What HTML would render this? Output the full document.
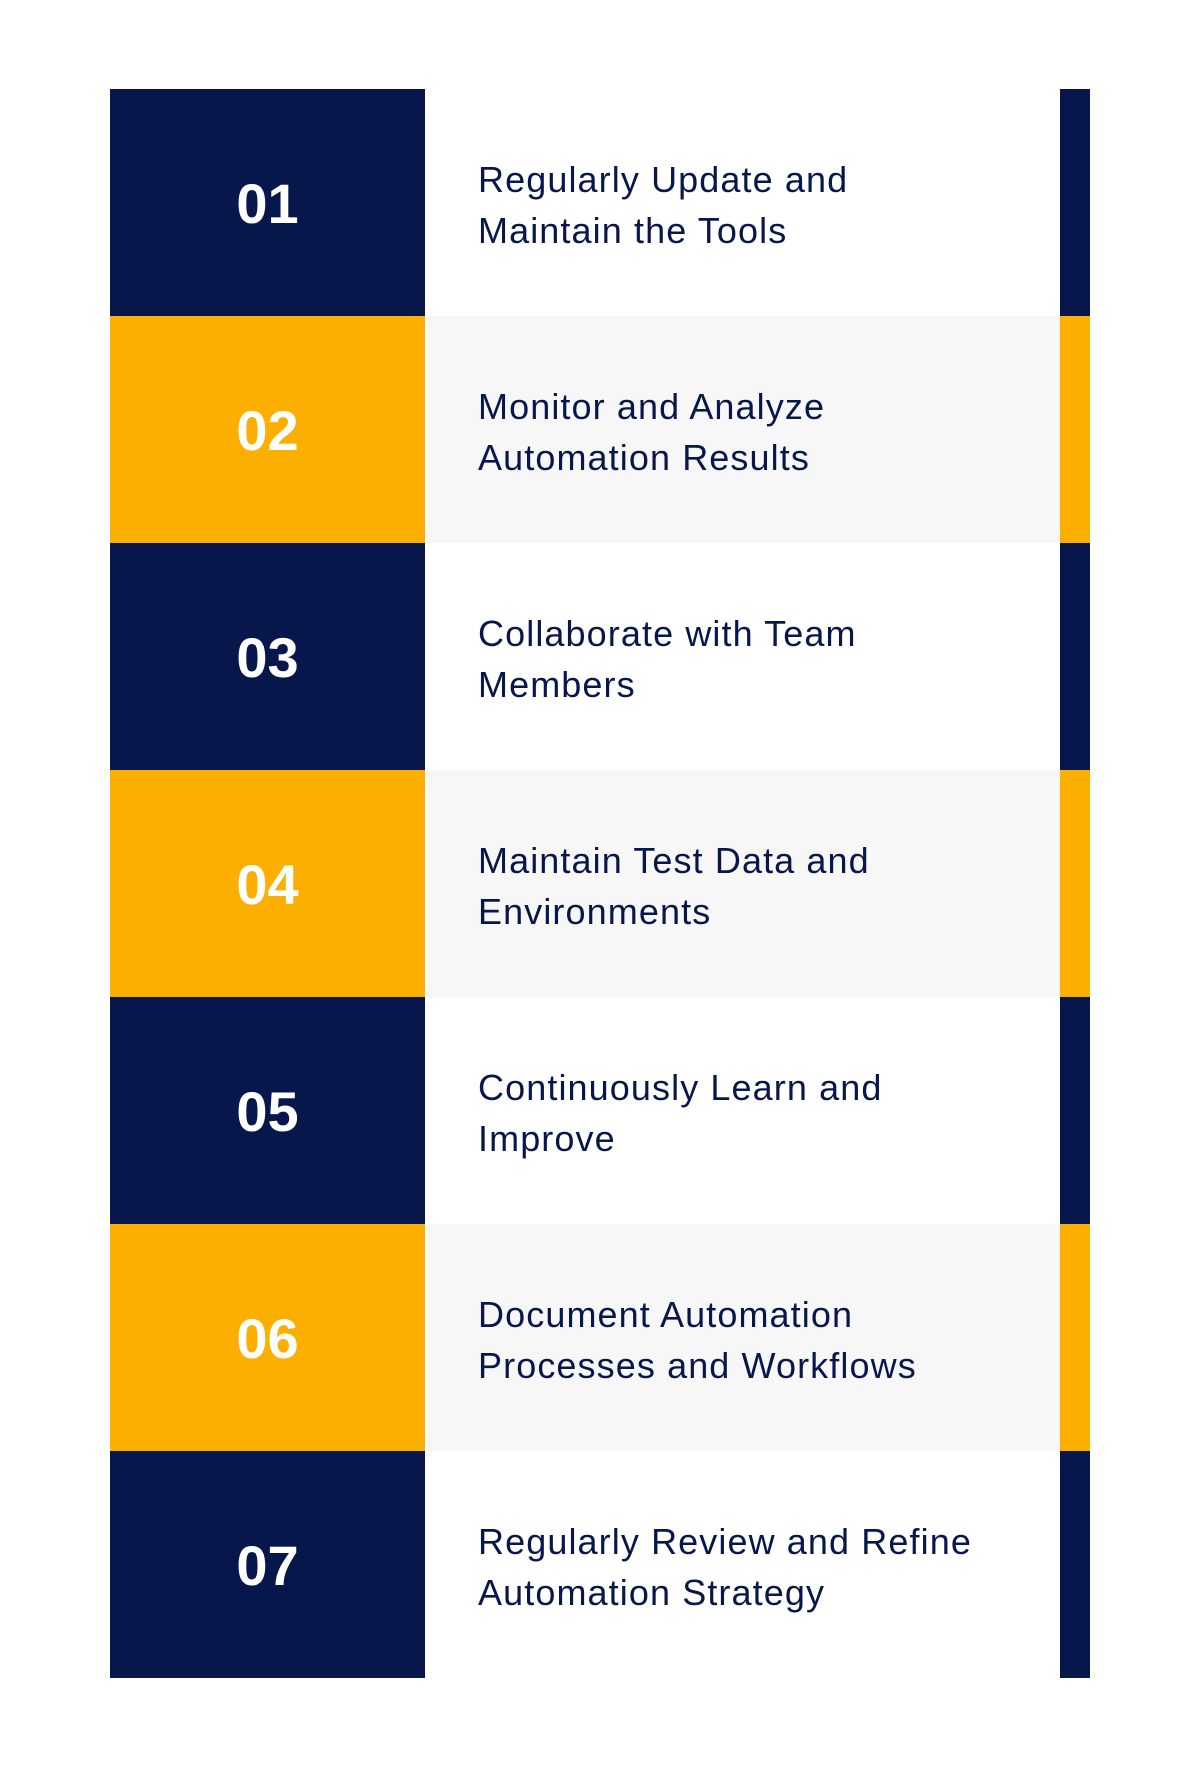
<!DOCTYPE html>
<html><head><meta charset="utf-8"><style>
html,body{margin:0;padding:0;background:#fff;}
body{width:1200px;height:1769px;position:relative;overflow:hidden;font-family:"Liberation Sans",sans-serif;}
.row{position:absolute;left:110px;width:980px;height:227px;}
.num{position:absolute;left:0;top:0;width:315px;height:227px;display:flex;align-items:center;justify-content:center;color:#fff;font-weight:bold;font-size:56px;padding-top:2px;box-sizing:border-box;}
.txt{position:absolute;left:317px;top:0;width:633px;height:227px;display:flex;align-items:center;}
.txt div{padding-left:51px;color:#07174B;font-size:36px;line-height:51px;letter-spacing:1.1px;padding-top:4px;}
.bar{position:absolute;left:950px;top:0;width:30px;height:227px;}
.n{background:#07174B;}
.o{background:#FDAF00;}
.w{background:#fff;}
.g{background:#F7F7F7;}
</style></head><body>
<div class="row" style="top:89px"><div class="num n">01</div><div class="txt w"><div>Regularly Update and<br>Maintain the Tools</div></div><div class="bar n"></div></div>
<div class="row" style="top:316px"><div class="num o">02</div><div class="txt g"><div>Monitor and Analyze<br>Automation Results</div></div><div class="bar o"></div></div>
<div class="row" style="top:543px"><div class="num n">03</div><div class="txt w"><div>Collaborate with Team<br>Members</div></div><div class="bar n"></div></div>
<div class="row" style="top:770px"><div class="num o">04</div><div class="txt g"><div>Maintain Test Data and<br>Environments</div></div><div class="bar o"></div></div>
<div class="row" style="top:997px"><div class="num n">05</div><div class="txt w"><div>Continuously Learn and<br>Improve</div></div><div class="bar n"></div></div>
<div class="row" style="top:1224px"><div class="num o">06</div><div class="txt g"><div>Document Automation<br>Processes and Workflows</div></div><div class="bar o"></div></div>
<div class="row" style="top:1451px"><div class="num n">07</div><div class="txt w"><div>Regularly Review and Refine<br>Automation Strategy</div></div><div class="bar n"></div></div>
</body></html>
